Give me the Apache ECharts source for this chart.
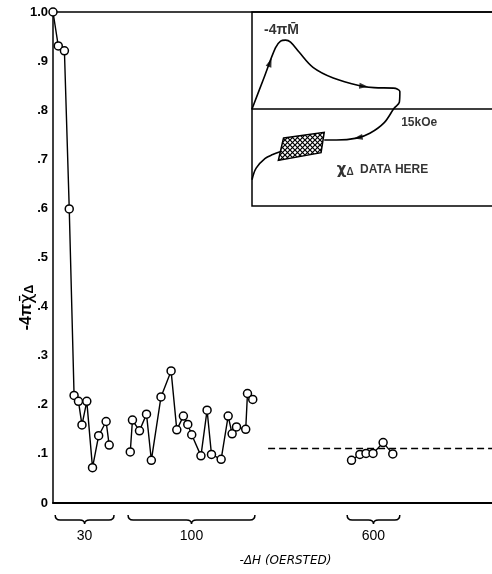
<!DOCTYPE html>
<html>
<head>
<meta charset="utf-8">
<script src="https://cdn.jsdelivr.net/npm/echarts@6/dist/echarts.min.js"></script>
<style>
html,body{margin:0;padding:0;background:#fff;}
#c{width:492px;height:574px;}
</style>
</head>
<body>
<div id="c"></div>
<script>
// ---- main data (x = position along the measurement sequence, arbitrary units 0..100) ----
const yTicks = ['0', '.1', '.2', '.3', '.4', '.5', '.6', '.7', '.8', '.9', '1.0'];
const x30 = [0, 1.2, 2.6, 3.7, 4.8, 5.8, 6.6, 7.7, 9.0, 10.4, 12.1, 12.8];
const y30 = [1.0, 0.931, 0.921, 0.599, 0.219, 0.207, 0.159, 0.207, 0.072, 0.137, 0.166, 0.118];
const x100 = [17.6, 18.1, 19.7, 21.3, 22.4, 24.6, 26.9, 28.2, 29.7, 30.7, 31.6, 33.7, 35.1, 36.1, 38.3, 39.9, 40.8, 41.8, 43.9, 44.3, 45.5];
const y100 = [0.104, 0.169, 0.147, 0.181, 0.087, 0.216, 0.269, 0.149, 0.177, 0.160, 0.139, 0.096, 0.189, 0.099, 0.089, 0.177, 0.141, 0.155, 0.150, 0.223, 0.211];
const x600 = [68.0, 69.9, 71.3, 72.9, 75.2, 77.4];
const y600 = [0.087, 0.099, 0.101, 0.101, 0.123, 0.100];
const refLevel = 0.111;
const refStart = 49.0;
const refEnd = 100;
const groupLabels = ['30', '100', '600'];
const groupStart = [0.5, 17.1, 67.0];
const groupEnd = [13.9, 46.0, 79.0];

// ---- inset schematic (x 0..100, y -1..1) ----
const insetUpperX = [0, 4.8, 9.6, 11.7, 13.75, 15.8, 19.2, 25, 33.3, 44.2, 50, 58, 60.6, 60.4, 58.3, 54.2, 48.3, 42.9, 34.6, 29.6];
const insetUpperY = [0, 0.315, 0.63, 0.70, 0.71, 0.69, 0.59, 0.43, 0.32, 0.24, 0.22, 0.215, 0.18, 0.07, 0.01, -0.14, -0.25, -0.30, -0.32, -0.32];
const insetLowerX = [11.5, 8.5, 5.4, 1.7, 0];
const insetLowerY = [-0.44, -0.47, -0.51, -0.61, -0.73];
const hatchX = [12.9, 29.6, 28.3, 10.8];
const hatchY = [-0.30, -0.24, -0.45, -0.53];
const arrowX = [7.4, 45.8, 43.5];
const arrowY = [0.48, 0.235, -0.295];
const arrowAngle = [-20, -97, 100];

const zip = (a, b) => a.map((v, i) => [v, b[i]]);

const hatch = document.createElement('canvas');
hatch.width = 5; hatch.height = 5;
(function () {
  const g = hatch.getContext('2d');
  g.fillStyle = '#fff'; g.fillRect(0, 0, 5, 5);
  g.strokeStyle = '#000'; g.lineWidth = 1.2;
  g.beginPath();
  g.moveTo(-1, -1); g.lineTo(6, 6);
  g.moveTo(-1, 6); g.lineTo(6, -1);
  g.stroke();
})();

const FONT = 'Liberation Sans';
const pointSeries = (xs, ys) => ({
  type: 'line', xAxisIndex: 0, yAxisIndex: 0, data: zip(xs, ys),
  symbol: 'circle', symbolSize: 8, clip: false,
  lineStyle: { color: '#000', width: 1.4 },
  itemStyle: { color: '#fff', borderColor: '#000', borderWidth: 1.5 },
  z: 5
});

const chart = echarts.init(document.getElementById('c'), null, { renderer: 'canvas' });
chart.setOption({
  backgroundColor: '#fff',
  animation: false,
  grid: [
    { left: 53, top: 12, right: 0, bottom: 71, outerBoundsMode: 'none', containLabel: false },
    { left: 252, top: 12, right: -4, bottom: 368, outerBoundsMode: 'none', containLabel: false,
      show: true, borderColor: '#000', borderWidth: 1.5, backgroundColor: '#fff' }
  ],
  xAxis: [
    { type: 'value', gridIndex: 0, min: 0, max: 100, position: 'bottom',
      axisLine: { onZero: false, lineStyle: { color: '#000', width: 2 } },
      axisTick: { show: false }, axisLabel: { show: false }, splitLine: { show: false },
      name: '-ΔH (OERSTED)', nameLocation: 'middle', nameGap: 52, nameMoveOverlap: false,
      nameTextStyle: { fontFamily: 'DejaVu Sans', fontStyle: 'italic', fontSize: 12, color: '#000', padding: [0, 0, 0, 26] } },
    { type: 'value', gridIndex: 0, min: 0, max: 100, position: 'top',
      axisLine: { onZero: false, lineStyle: { color: '#000', width: 1.5 } },
      axisTick: { show: false }, axisLabel: { show: false }, splitLine: { show: false } },
    { type: 'value', gridIndex: 1, min: 0, max: 100,
      axisLine: { show: true, onZero: true, lineStyle: { color: '#000', width: 1.5 } },
      axisTick: { show: false }, axisLabel: { show: false }, splitLine: { show: false } }
  ],
  yAxis: [
    { type: 'value', gridIndex: 0, min: 0, max: 1, interval: 0.1,
      axisLine: { show: true, lineStyle: { color: '#000', width: 1.5 } },
      axisTick: { show: false }, splitLine: { show: false },
      axisLabel: { margin: 5, color: '#000', fontFamily: FONT, fontWeight: 'bold', fontSize: 13,
        formatter: v => yTicks[Math.round(v * 10)] },
      name: '{a|-4π}{b|χ̄}{c|Δ}', nameLocation: 'middle', nameGap: 17, nameRotate: 90, nameMoveOverlap: false,
      nameTextStyle: { color: '#000', padding: [0, 100, 0, 0],
        rich: {
          a: { fontFamily: FONT, fontWeight: 'bold', fontSize: 16, color: '#000' },
          b: { fontFamily: 'DejaVu Sans', fontSize: 18, color: '#000' },
          c: { fontFamily: FONT, fontWeight: 'bold', fontSize: 12, color: '#000', verticalAlign: 'bottom', padding: [6, 0, 0, 0] }
        } } },
    { type: 'value', gridIndex: 1, min: -1, max: 1,
      axisLine: { show: false }, axisTick: { show: false }, axisLabel: { show: false }, splitLine: { show: false } }
  ],
  series: [
    pointSeries(x30, y30),
    pointSeries(x100, y100),
    pointSeries(x600, y600),
    { type: 'line', xAxisIndex: 0, yAxisIndex: 0, data: [[refStart, refLevel], [refEnd, refLevel]],
      symbol: 'none', lineStyle: { color: '#000', width: 1.6, type: [7, 4] }, z: 3 },
    { type: 'custom', xAxisIndex: 0, yAxisIndex: 0, clip: false,
      data: groupLabels.map((l, i) => [groupStart[i], groupEnd[i], i]),
      renderItem: function (params, api) {
        const s = api.coord([api.value(0), 0]);
        const e = api.coord([api.value(1), 0]);
        const y = s[1] + 17, x1 = s[0], x2 = e[0], m = (x1 + x2) / 2;
        const d = `M${x1} ${y - 5} Q${x1} ${y} ${x1 + 5} ${y} L${m - 5} ${y} Q${m} ${y} ${m} ${y + 4} Q${m} ${y} ${m + 5} ${y} L${x2 - 5} ${y} Q${x2} ${y} ${x2} ${y - 5}`;
        return { type: 'group', children: [
          { type: 'path', shape: { pathData: d }, style: { fill: 'none', stroke: '#000', lineWidth: 1.5 } },
          { type: 'text', style: { text: groupLabels[params.dataIndex], x: m, y: y + 16, align: 'center', verticalAlign: 'middle',
            font: '14px "Liberation Sans"', fill: '#000' } }
        ] };
      } },
    // inset
    { type: 'line', xAxisIndex: 2, yAxisIndex: 1, data: zip(insetUpperX, insetUpperY), symbol: 'none', smooth: 0.35,
      lineStyle: { color: '#000', width: 1.6 }, z: 4 },
    { type: 'line', xAxisIndex: 2, yAxisIndex: 1, data: zip(insetLowerX, insetLowerY), symbol: 'none', smooth: 0.35,
      lineStyle: { color: '#000', width: 1.6 }, z: 4 },
    { type: 'custom', xAxisIndex: 2, yAxisIndex: 1, data: [0],
      renderItem: function (params, api) {
        const pts = hatchX.map((x, i) => api.coord([x, hatchY[i]]));
        return { type: 'polygon', shape: { points: pts },
          style: { fill: { image: hatch, repeat: 'repeat' }, stroke: '#000', lineWidth: 1.5 } };
      }, z: 5 },
    { type: 'scatter', xAxisIndex: 2, yAxisIndex: 1, symbol: 'triangle', symbolSize: [6, 9],
      data: arrowX.map((x, i) => ({ value: [x, arrowY[i]], symbolRotate: arrowAngle[i] })),
      itemStyle: { color: '#000' }, z: 6 },
    { type: 'scatter', xAxisIndex: 2, yAxisIndex: 1, symbolSize: 0, z: 6,
      label: { show: true, position: 'inside', color: '#000', fontFamily: FONT, fontWeight: 'bold', fontSize: 12 },
      data: [
        { value: [12.1, 0.81], label: { formatter: '-4πM̄', fontSize: 14 } },
        { value: [68.5, -0.145], label: { formatter: '15kOe' } },
        { value: [53.5, -0.63], label: { formatter: '{x|χ}{d|Δ} DATA HERE', rich: {
            x: { fontFamily: 'DejaVu Sans', fontSize: 15, color: '#000' },
            d: { fontFamily: FONT, fontWeight: 'bold', fontSize: 10, color: '#000', verticalAlign: 'bottom', padding: [0, 3, 0, 0] } } } }
      ] }
  ]
});
</script>
</body>
</html>
